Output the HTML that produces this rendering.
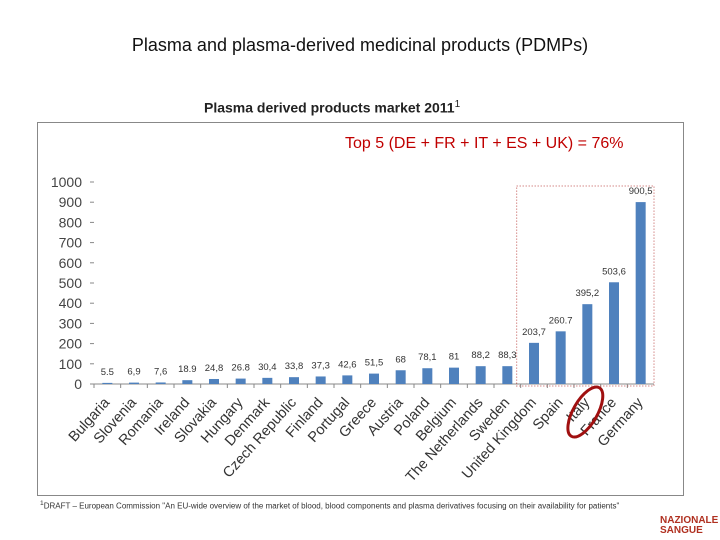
<!DOCTYPE html>
<html><head><meta charset="utf-8"><style>
body{margin:0;width:720px;height:540px;background:#fff;font-family:"Liberation Sans",sans-serif;overflow:hidden;position:relative}
.t{position:absolute;white-space:nowrap}
</style></head><body>
<div class="t" style="left:0;width:720px;top:35px;text-align:center;font-size:18px;color:#111">Plasma and plasma-derived medicinal products (PDMPs)</div>
<div class="t" style="left:204px;top:99px;font-size:14px;font-weight:bold;color:#222">Plasma derived products market 2011<sup style="font-size:10px;font-weight:normal">1</sup></div>
<div style="position:absolute;left:37px;top:122px;width:645px;height:372px;border:1px solid #888"></div>
<div class="t" style="left:345px;top:135px;font-size:16px;color:#c00000">Top 5 (DE + FR + IT + ES + UK) = 76%</div>
<div class="t" style="left:40px;top:500px;font-size:8px;color:#333"><sup>1</sup>DRAFT – European Commission "An EU-wide overview of the market of blood, blood components and plasma derivatives focusing on their availability for patients"</div>
<div class="t" style="left:660px;top:516px;font-size:10px;font-weight:bold;color:#b03020;line-height:10px">NAZIONALE<br>SANGUE</div>
<svg id="c" width="720" height="540" style="position:absolute;left:0;top:0"></svg>
<script>
const categories=["Bulgaria","Slovenia","Romania","Ireland","Slovakia","Hungary","Denmark","Czech Republic","Finland","Portugal","Greece","Austria","Poland","Belgium","The Netherlands","Sweden","United Kingdom","Spain","Italy","France","Germany"];
const values=[5.5,6.9,7.6,18.9,24.8,26.8,30.4,33.8,37.3,42.6,51.5,68,78.1,81,88.2,88.3,203.7,260.7,395.2,503.6,900.5];
const valueLabels=["5.5","6,9","7,6","18.9","24,8","26.8","30,4","33,8","37,3","42,6","51,5","68","78,1","81","88,2","88,3","203,7","260.7","395,2","503,6","900,5"];
const yTicks=[0,100,200,300,400,500,600,700,800,900,1000];
const NS="http://www.w3.org/2000/svg",svg=document.getElementById('c');
const x0=94,plotW=560,y0=384,yTop=182,yMax=1000;
const step=plotW/categories.length;
const y=v=>y0-(v/yMax)*(y0-yTop);
const xc=i=>x0+step*(i+0.5);
function mk(t,a){const e=document.createElementNS(NS,t);for(const k in a)e.setAttribute(k,a[k]);svg.appendChild(e);return e;}
yTicks.forEach(v=>{
 const l=mk('line',{x1:90,x2:94,y1:y(v),y2:y(v),stroke:'#888'});
 
 
 const t=mk('text',{x:82,y:y(v)+5,'text-anchor':'end','font-size':14,fill:'#444','font-family':'Liberation Sans'});
 t.textContent=v;
 
 
});
const ax=mk('line',{x1:x0,x2:x0+plotW,y1:y0,y2:y0,stroke:'#888'});


categories.forEach((c,i)=>{
 const tk=mk('line',{x1:x0+step*i,x2:x0+step*i,y1:y0,y2:y0+4,stroke:'#888'});
 
 
 const b=mk('rect',{x:xc(i)-5,y:y(values[i]),width:10,height:y0-y(values[i]),fill:'#4f81bd'});
 
 
 const vl=mk('text',{x:xc(i),y:y(values[i])-8,'text-anchor':'middle','font-size':9.5,fill:'#333','font-family':'Liberation Sans'});
 vl.textContent=valueLabels[i];
 
 
 const lx=xc(i)+3,ly=y0+19;
 const xl=mk('text',{x:lx,y:ly,'text-anchor':'end','font-size':14.5,fill:'#333','font-family':'Liberation Sans',transform:`rotate(-48 ${lx} ${ly})`});
 xl.textContent=c;
 
 
});
const bx=mk('rect',{x:x0+step*16-4,y:186,width:step*5+4,height:200,fill:'none',stroke:'#c0504d','stroke-dasharray':'1,2'});


const el=mk('ellipse',{cx:xc(18)-2,cy:412,rx:12,ry:28,fill:'none',stroke:'#a01010','stroke-width':3,transform:`rotate(30 ${xc(18)-2} 412)`});


</script>
</body></html>
